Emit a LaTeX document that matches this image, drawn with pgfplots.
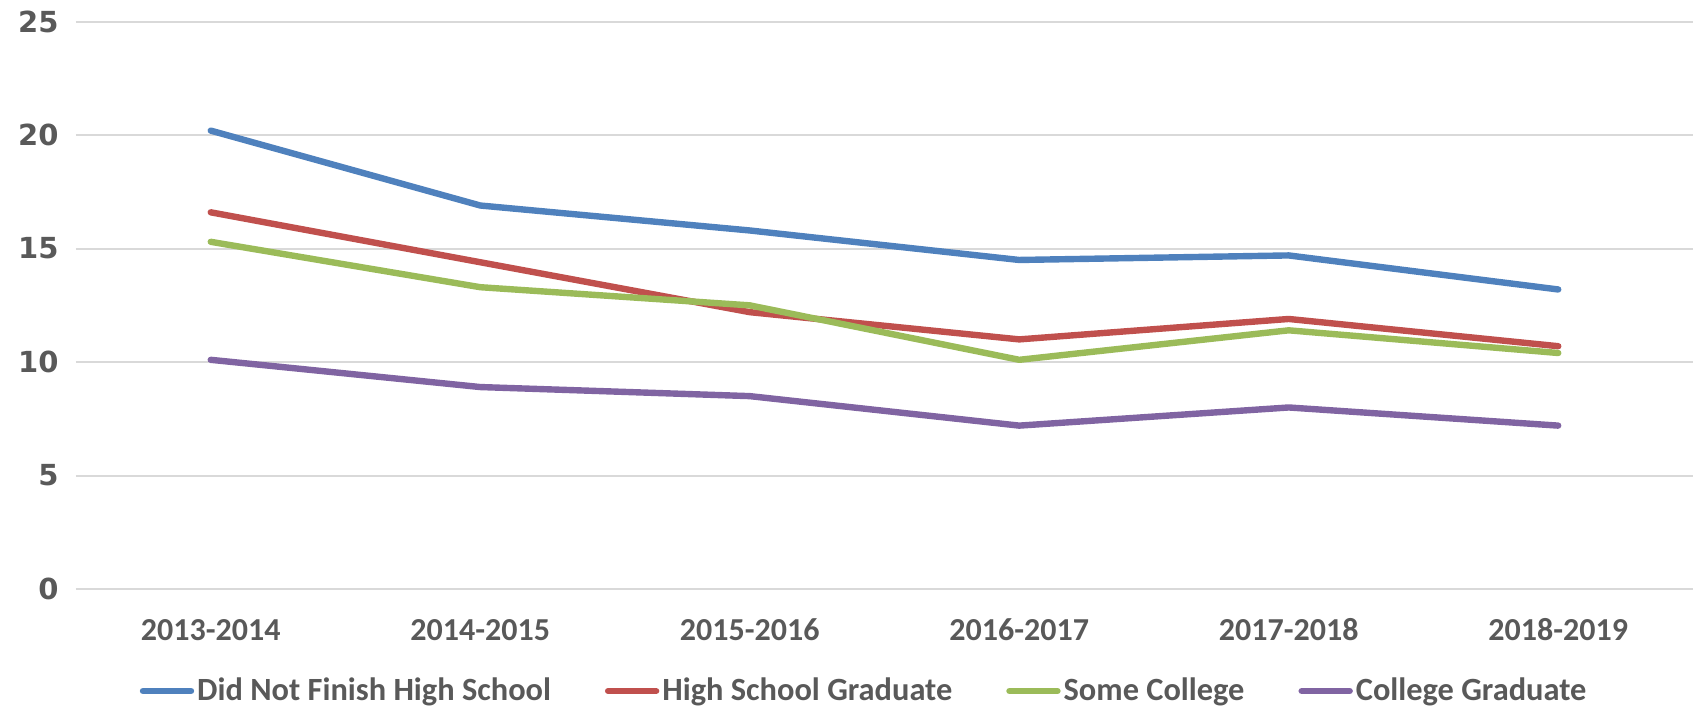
\documentclass[border=0pt]{standalone}
\usepackage{pgfplots}
\pgfplotsset{compat=1.18}
\usepackage{fontspec}
\setmainfont{Carlito}
\newfontfamily\dejavu{DejaVu Sans}
\definecolor{txt}{HTML}{595959}
\definecolor{gridgray}{HTML}{D9D9D9}
\definecolor{sblue}{HTML}{4F81BD}
\definecolor{sred}{HTML}{C0504D}
\definecolor{sgreen}{HTML}{9BBB59}
\definecolor{spurple}{HTML}{8064A2}
\begin{document}
\begin{tikzpicture}
\begin{axis}[
  at={(0,0)}, anchor=south west,
  width=808.5pt, height=283.65pt, scale only axis,
  xmin=-0.5, xmax=5.5, ymin=0, ymax=25,
  axis line style={draw=none},
  tick style={draw=none},
  ytick={0,5,10,15,20,25},
  xtick={0,1,2,3,4,5},
  xticklabels={2013-2014,2014-2015,2015-2016,2016-2017,2017-2018,2018-2019},
  ymajorgrids,
  major grid style={color=gridgray, line width=1pt},
  /pgf/number format/assume math mode=true,
  yticklabel style={font=\dejavu\bfseries\fontsize{14.5}{17}\selectfont, text=txt, anchor=east, inner sep=0pt, xshift=-8.5pt},
  xticklabel style={font=\bfseries\fontsize{16}{19}\selectfont, text=txt, anchor=center, inner sep=0pt, yshift=-20.5pt},
  legend columns=4,
  legend cell align=left,
  legend style={at={(0.4877,-0.1798)}, anchor=center, draw=none, fill=none,
    font=\bfseries\fontsize{16.2}{19}\selectfont, text=txt, inner sep=0pt,
    nodes={inner xsep=1.5pt, inner ysep=0pt},
    /tikz/every even column/.append style={column sep=25.5pt}},
  legend image code/.code={\draw[#1, line width=3.2pt, line cap=round] (0pt,0pt) -- (24pt,0pt);},
  every axis plot/.append style={line width=3.2pt, line cap=round, line join=round, mark=none},
  clip=false,
]
\addplot[sblue] coordinates {(0,20.2) (1,16.9) (2,15.8) (3,14.5) (4,14.7) (5,13.2)};
\addlegendentry{Did Not Finish High School}
\addplot[sred] coordinates {(0,16.6) (1,14.4) (2,12.2) (3,11.0) (4,11.9) (5,10.7)};
\addlegendentry{High School Graduate}
\addplot[sgreen] coordinates {(0,15.3) (1,13.3) (2,12.5) (3,10.1) (4,11.4) (5,10.4)};
\addlegendentry{Some College}
\addplot[spurple] coordinates {(0,10.1) (1,8.9) (2,8.5) (3,7.2) (4,8.0) (5,7.2)};
\addlegendentry{College Graduate}
\end{axis}
\pgfresetboundingbox
\path (-38pt,-60pt) rectangle (811pt,294.5pt);
\end{tikzpicture}
\end{document}
